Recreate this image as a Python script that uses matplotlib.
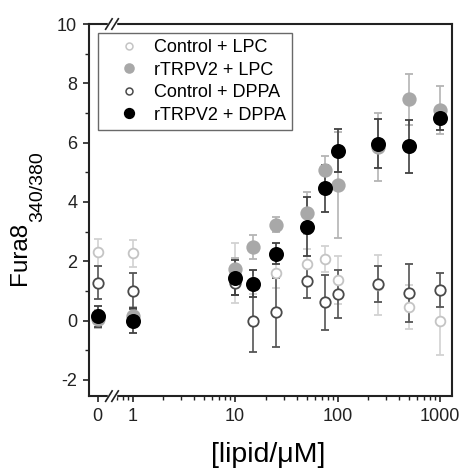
import numpy as np
import matplotlib
matplotlib.use("Agg")
import matplotlib.pyplot as plt
from matplotlib.lines import Line2D
from matplotlib.ticker import FixedLocator, NullFormatter

plt.rcParams['font.family'] = ['Liberation Sans', 'DejaVu Sans']
plt.rcParams['axes.unicode_minus'] = False

# lipid concentration (uM)
conc = [0, 1, 10, 15, 25, 50, 75, 100, 250, 500, 1000]

ctrl_lpc = [2.3, 2.27, 1.6, 1.3, 1.6, 1.9, 2.07, 1.37, 1.2, 0.45, 0.0]
ctrl_lpc_err = [0.45, 0.45, 1.0, 0.4, 0.5, 0.5, 0.45, 0.8, 1.0, 0.75, 1.15]

trpv2_lpc = [0.05, 0.15, 1.75, 2.49, 3.23, 3.62, 5.06, 4.57, 5.85, 7.46, 7.1]
trpv2_lpc_err = [0.3, 0.3, 0.35, 0.4, 0.25, 0.7, 0.5, 1.8, 1.15, 0.85, 0.8]

ctrl_dppa = [1.28, 1.0, 1.25, 0.0, 0.28, 1.34, 0.62, 0.9, 1.23, 0.92, 1.03]
ctrl_dppa_err = [0.55, 0.6, 0.4, 1.07, 1.17, 0.59, 0.93, 0.81, 0.62, 0.98, 0.58]

trpv2_dppa = [0.14, 0.0, 1.45, 1.24, 2.25, 3.17, 4.46, 5.73, 5.96, 5.87, 6.82]
trpv2_dppa_err = [0.35, 0.42, 0.6, 0.45, 0.35, 1.0, 0.8, 0.73, 0.83, 0.9, 0.4]

GAP = 0.34  # width of the 0..1 linear part, in decades


def fwd(x):
    x = np.asarray(x, dtype=float)
    return np.where(x >= 1, np.log10(np.maximum(x, 1)), (x - 1) * GAP)


def inv(p):
    p = np.asarray(p, dtype=float)
    return np.where(p >= 0, 10 ** np.maximum(p, 0), 1 + p / GAP)


fig = plt.figure(figsize=(4.61, 4.71), dpi=100)
ax = fig.add_axes([0.193, 0.159, 0.787, 0.790])
ax.set_xscale('function', functions=(fwd, inv))

series = [
    ("Control + LPC", ctrl_lpc, ctrl_lpc_err, 'white', '#c4c4c4', '#d2d2d2', 7, 5),
    ("rTRPV2 + LPC", trpv2_lpc, trpv2_lpc_err, '#a8a8a8', '#a8a8a8', '#b4b4b4', 9, 6.5),
    ("Control + DPPA", ctrl_dppa, ctrl_dppa_err, 'white', '#4a4a4a', '#555555', 7.5, 5),
    ("rTRPV2 + DPPA", trpv2_dppa, trpv2_dppa_err, 'black', 'black', '#404040', 9.5, 7),
]

handles = []
for label, vals, errs, face, edge, ecol, ms, lms in series:
    ax.errorbar(conc, vals, yerr=errs, fmt='o', ms=ms, mfc=face, mec=edge,
                mew=1.3, ecolor=ecol, elinewidth=1.2, capsize=3, capthick=1.2)
    handles.append(Line2D([], [], ls='none', marker='o', ms=lms, mfc=face,
                          mec=edge, mew=1.1, label=label))

ax.set_xlim(-0.25, 1300)
ax.set_ylim(-2.55, 10)

ax.xaxis.set_major_locator(FixedLocator([0, 1, 10, 100, 1000]))
ax.set_xticklabels(['0', '1', '10', '100', '1000'])
minors = [1 + np.log10(m) / GAP for m in (0.7, 0.8, 0.9)]
for dec in (1, 10, 100):
    minors += [dec * m for m in range(2, 10)]
ax.xaxis.set_minor_locator(FixedLocator(minors))
ax.xaxis.set_minor_formatter(NullFormatter())

ax.set_yticks([-2, 0, 2, 4, 6, 8, 10])
ax.yaxis.set_minor_locator(FixedLocator([-1, 1, 3, 5, 7, 9]))

ax.tick_params(which='major', direction='out', length=4.5, width=1.2,
               labelsize=13, pad=4, colors='#222222')
ax.tick_params(which='minor', direction='out', length=3, width=1.0,
               colors='#222222')
for sp in ax.spines.values():
    sp.set_linewidth(1.5)
    sp.set_color('#222222')

# axis break marks on top and bottom spines
xb = (112 - 89) / 362.7
dx, dy, sep = 0.009, 0.014, 0.0085
for yb in (0, 1):
    ax.plot([xb - sep, xb + sep], [yb, yb], transform=ax.transAxes,
            color='white', lw=2.5, clip_on=False, zorder=5)
    for off in (-sep, sep):
        ax.plot([xb + off - dx, xb + off + dx], [yb - dy, yb + dy],
                transform=ax.transAxes, color='#222222', lw=1.2,
                clip_on=False, zorder=6)

leg = ax.legend(handles=handles, loc='upper left',
                bbox_to_anchor=(0.025, 0.976), borderaxespad=0,
                fontsize=13, frameon=True, fancybox=False,
                edgecolor='#444444', borderpad=0.35, handlelength=2.7,
                handletextpad=0.05, labelspacing=0.3)
leg.get_frame().set_linewidth(1.0)

fig.text(0.043, 0.461, 'Fura8', rotation=90, ha='center', va='center',
         fontsize=17.5)
fig.text(0.081, 0.604, '340/380', rotation=90, ha='center', va='center',
         fontsize=14)
fig.text(0.582, 0.034, '[lipid/\u03bcM]', ha='center', va='center',
         fontsize=20.5)

fig.savefig('out.png', dpi=100)
